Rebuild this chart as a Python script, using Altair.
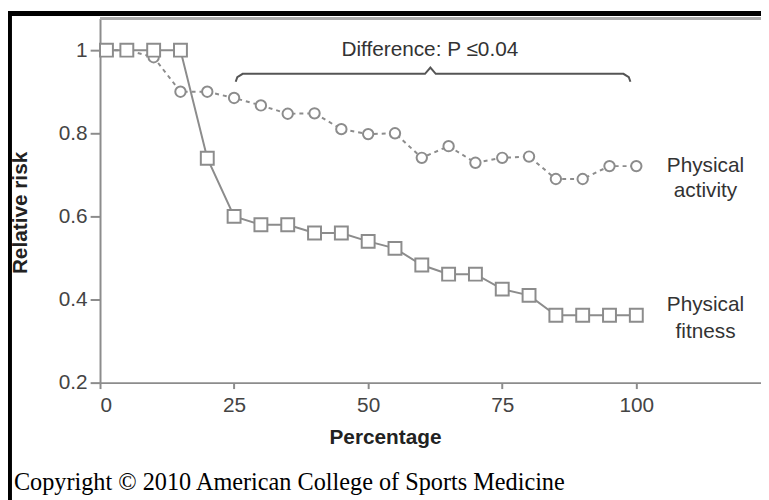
import altair as alt
import pandas as pd

# ---- data ----
pct = [1.2, 5, 10, 15, 20, 25, 30, 35, 40, 45, 50, 55, 60, 65, 70, 75, 80, 85, 90, 95, 100]
fitness = [1.0, 1.0, 1.0, 1.0, 0.74, 0.60, 0.58, 0.58, 0.56, 0.56, 0.54, 0.523,
           0.483, 0.461, 0.461, 0.425, 0.41, 0.362, 0.362, 0.362, 0.362]
activity = [1.0, 1.0, 0.983, 0.90, 0.90, 0.885, 0.867, 0.847, 0.848, 0.81, 0.798,
            0.80, 0.741, 0.769, 0.729, 0.741, 0.744, 0.69, 0.69, 0.721, 0.721]

x_ticks = [0, 25, 50, 75, 100]
y_ticks = [0.2, 0.4, 0.6, 0.8, 1.0]

brace_x = [25.3, 25.6, 26.6, 60.6, 61.6, 62.6, 97.6, 98.6, 98.9]
brace_y = [0.924, 0.935, 0.943, 0.943, 0.958, 0.943, 0.943, 0.935, 0.924]

note_text = ["Difference: P \u22640.04", "Physical", "activity", "Physical", "fitness"]
note_x = [61.5, 112.9, 112.9, 112.9, 112.9]
note_y = [1.0, 0.721, 0.662, 0.386, 0.321]

copyright_text = "Copyright \u00a9 2010  American College of Sports Medicine"

# ---- tables ----
series = pd.DataFrame({"pct": pct, "fitness": fitness, "activity": activity})
brace = pd.DataFrame({"x": brace_x, "y": brace_y, "i": list(range(len(brace_x)))})
notes = pd.DataFrame({"x": note_x, "y": note_y, "t": note_text})
one = pd.DataFrame({"a": [0]})

W, H = 668, 368
GRAY = "#8c8c8c"
SANS = "Liberation Sans"

xscale = alt.Scale(domain=[0, 123.25], nice=False, zero=False)
yscale = alt.Scale(domain=[0.2, 1.0762], nice=False, zero=False)

xaxis = alt.Axis(values=x_ticks, format="d", tickSize=6, tickWidth=2, tickColor=GRAY,
                 domainColor=GRAY, domainWidth=2, labelFont=SANS, labelFontSize=21,
                 labelColor="#444", labelPadding=6, grid=False,
                 title="Percentage", titleFont=SANS, titleFontSize=21, titleFontWeight="bold",
                 titleColor="#222", titleX=288, titleY=56, titleAlign="center",
                 titleBaseline="middle")
yaxis = alt.Axis(values=y_ticks, format=".1~f", tickSize=10, tickWidth=2, tickColor=GRAY,
                 domainColor=GRAY, domainWidth=2, labelFont=SANS, labelFontSize=21,
                 labelColor="#444", labelPadding=3, grid=False,
                 title="Relative risk", titleFont=SANS, titleFontSize=21, titleFontWeight="bold",
                 titleColor="#222", titleX=-80, titleY=196, titleAngle=270,
                 titleAlign="center", titleBaseline="middle")

X = alt.X("pct:Q", scale=xscale, axis=xaxis)
Y = alt.Y("activity:Q", scale=yscale, axis=yaxis)

act_line = alt.Chart(series).mark_line(color=GRAY, strokeWidth=2, strokeDash=[4, 4]).encode(
    x=X, y=Y)
act_pts = alt.Chart(series).mark_point(shape="circle", filled=True, fill="white", stroke=GRAY,
                                       strokeWidth=2, size=110, opacity=1).encode(
    x="pct:Q", y="activity:Q")
fit_line = alt.Chart(series).mark_line(color=GRAY, strokeWidth=2).encode(
    x="pct:Q", y=alt.Y("fitness:Q"))
fit_pts = alt.Chart(series).mark_point(shape="square", filled=True, fill="white", stroke=GRAY,
                                       strokeWidth=2, size=170, opacity=1).encode(
    x="pct:Q", y="fitness:Q")

brace_line = alt.Chart(brace).mark_line(color="#555", strokeWidth=2).encode(
    x=alt.X("x:Q"), y=alt.Y("y:Q"), order="i:Q")

note_marks = alt.Chart(notes).mark_text(font=SANS, fontSize=21, color="#333",
                                        align="center", baseline="middle").encode(
    x="x:Q", y="y:Q", text="t:N")

top_frame = alt.Chart(one).mark_rule(color="#aaa", strokeWidth=3).encode(
    x=alt.value(0), x2=alt.value(W), y=alt.value(0))
black_top = alt.Chart(one).mark_rule(color="black", strokeWidth=5).encode(
    x=alt.value(-93), x2=alt.value(W), y=alt.value(-5))
black_left = alt.Chart(one).mark_rule(color="black", strokeWidth=4).encode(
    x=alt.value(-91), y=alt.value(-7), y2=alt.value(H + 130))

copyright_mark = alt.Chart(one).mark_text(font="Liberation Serif", fontSize=24.5, color="black",
                                          align="left", baseline="alphabetic").encode(
    x=alt.value(-87), y=alt.value(477), text=alt.value(copyright_text))

chart = alt.layer(
    top_frame, act_line, act_pts, fit_line, fit_pts, brace_line, note_marks,
    black_top, black_left, copyright_mark
).properties(
    width=W, height=H,
    autosize=alt.AutoSizeParams(type="none"),
    padding={"left": 93, "top": 8, "right": 0, "bottom": 116},
    background="white",
).configure_view(stroke=None)

chart.save("out.html", embed_options={"renderer": "svg", "actions": False})
